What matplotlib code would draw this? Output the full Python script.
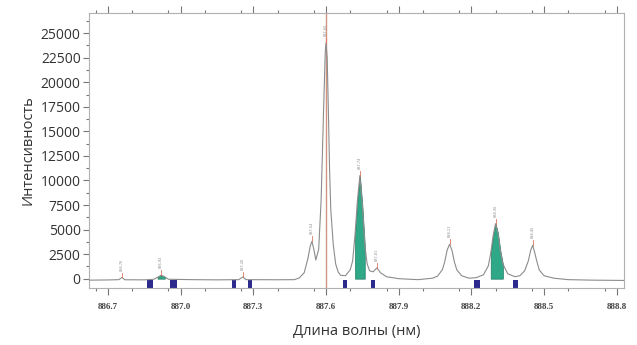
import numpy as np
import matplotlib.pyplot as plt
from matplotlib.ticker import MultipleLocator

# spectrum: wavelength (nm) and intensity
wl = [886.62, 886.70, 886.745, 886.758, 886.77, 886.85, 886.89, 886.905, 886.92, 886.935,
      886.95, 887.05, 887.15, 887.24, 887.257, 887.27, 887.40, 887.47, 887.49, 887.51,
      887.525, 887.535, 887.542, 887.55, 887.558, 887.57, 887.58, 887.59, 887.597, 887.60,
      887.605, 887.61, 887.615, 887.62, 887.63, 887.64, 887.65, 887.66, 887.68, 887.70, 887.71,
      887.72, 887.73, 887.74, 887.75, 887.76, 887.77, 887.78, 887.795, 887.81, 887.825,
      887.85, 887.90, 887.98, 888.04, 888.06, 888.08, 888.09, 888.10, 888.11, 888.12,
      888.13, 888.14, 888.16, 888.19, 888.22, 888.25, 888.27, 888.28, 888.29, 888.30,
      888.31, 888.32, 888.33, 888.35, 888.38, 888.40, 888.42, 888.435, 888.445, 888.453,
      888.46, 888.47, 888.48, 888.50, 888.54, 888.60, 888.70, 888.83]
intensity = [-150, -130, -100, 120, -110, -120, -60, 150, 350, 180,
             -60, -100, -120, -100, 180, -100, -110, -100, 80, 600,
             2000, 3300, 3800, 3000, 1900, 3000, 8000, 17000, 23000, 24000,
             22500, 17000, 11000, 7000, 3500, 1500, 700, 350, 300, 900, 1800,
             4500, 8000, 10500, 7500, 3500, 1500, 800, 700, 1100, 600,
             200, 0, -100, 50, 250, 900, 1700, 2900, 3500, 2900,
             1700, 900, 300, 50, 100, 400, 1300, 2600, 4400, 5600,
             4600, 2800, 1500, 500, 200, 300, 800, 1800, 2900, 3400,
             2800, 1800, 900, 300, 50, -100, -150, -180]

# peaks with markers on top
peak_wl = [886.758, 886.92, 887.257, 887.542, 887.60, 887.74, 887.81, 888.11, 888.30, 888.453]

# green integrated areas
green_lo = [886.905, 887.718, 888.278]
green_hi = [886.935, 887.762, 888.332]

# blue blocks under the baseline
block_wl = [886.873, 886.97, 887.22, 887.286, 887.678, 887.793, 888.222, 888.381]
block_w = [0.025, 0.028, 0.017, 0.015, 0.017, 0.017, 0.025, 0.022]

ref_line = 887.60
x_ticks = [886.7, 887.0, 887.3, 887.6, 887.9, 888.2, 888.5, 888.8]

wl_a = np.array(wl)
int_a = np.array(intensity)

fig = plt.figure(figsize=(6.37, 3.45), dpi=100)
ax = fig.add_axes([0.1397, 0.1652, 0.8399, 0.7971])

ax.axvline(ref_line, color="#cf9580", lw=1.0, zorder=1)

for lo, hi in zip(green_lo, green_hi):
    m = (wl_a >= lo - 1e-9) & (wl_a <= hi + 1e-9)
    ax.fill_between(wl_a[m], 0, int_a[m], color="#2fa888", edgecolor="#1f7a60",
                    lw=0.5, zorder=2)

ax.plot(wl, intensity, color="#8c8c8c", lw=0.8, zorder=3)

ax.bar(block_wl, 850, width=block_w, bottom=-950, color="#2d2a8e", zorder=2)

# tiny peak markers and labels
for p in peak_wl:
    h = np.interp(p, wl_a, int_a)
    ax.plot([p, p], [h, h + 500], color="#d9775a", lw=0.6, zorder=4)
    ax.text(p, h + 700, f"{p:.2f}".replace(".", ","), rotation=90, fontsize=2.5,
            color="#888888", ha="center", va="bottom", zorder=4)

ax.set_xlim(886.622, 888.83)
ax.set_ylim(-950, 27050)

ax.set_xticks(x_ticks)
ax.set_xticklabels([f"{t:.1f}" for t in x_ticks], family="Liberation Serif",
                   fontsize=6.5, fontweight="bold", color="#444444")
ax.xaxis.set_minor_locator(MultipleLocator(0.15))
ax.yaxis.set_major_locator(MultipleLocator(2500))
ax.yaxis.set_minor_locator(MultipleLocator(1250))
ax.set_yticks(np.arange(0, 25001, 2500))
for lab in ax.get_yticklabels():
    lab.set_family("Open Sans")
    lab.set_fontsize(10)
    lab.set_color("#333333")

ax.tick_params(axis="x", which="both", direction="out", top=True, bottom=True,
               color="#777777", pad=6)
ax.tick_params(axis="x", which="major", length=5, width=0.8)
ax.tick_params(axis="x", which="minor", length=2.5, width=0.8)
ax.tick_params(axis="y", which="both", direction="out", right=False, color="#777777")
ax.tick_params(axis="y", which="major", length=4, width=0.8, pad=2)
ax.tick_params(axis="y", which="minor", length=2, width=0.8)

for s in ax.spines.values():
    s.set_color("#b0b0b0")
    s.set_linewidth(0.8)

ax.set_xlabel("Длина волны (нм)", family="Open Sans", fontsize=10.5,
              color="#333333", labelpad=9)
ax.set_ylabel("Интенсивность", family="Open Sans", fontsize=10.5,
              color="#333333", labelpad=4)

fig.savefig("out.png", dpi=100)
